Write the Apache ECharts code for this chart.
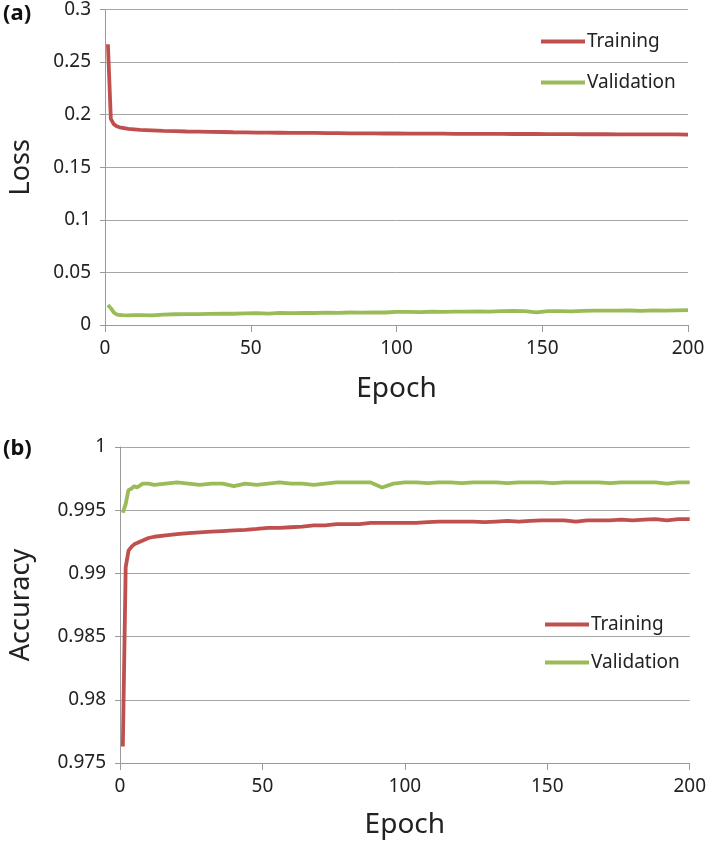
<!DOCTYPE html>
<html>
<head>
<meta charset="utf-8">
<script src="https://cdn.jsdelivr.net/npm/echarts@6/dist/echarts.min.js"></script>
<style>html,body{margin:0;padding:0;background:#fff;}#c{width:709px;height:844px;}</style>
</head>
<body>
<div id="c"></div>
<script>
const epochs = [1,2,3,4,5,6,8,10,12,16,20,24,28,32,36,40,44,48,52,56,60,64,68,72,76,80,84,88,92,96,100,104,108,112,116,120,124,128,132,136,140,144,148,152,156,160,164,168,172,176,180,184,188,192,196,200];

const lossTraining = [0.267,0.196,0.191,0.189,0.188,0.1875,0.1865,0.186,0.1855,0.185,0.1845,0.1843,0.1840,0.1838,0.1836,0.1835,0.1833,0.1832,0.1830,0.1829,0.1828,0.1827,0.1826,0.1826,0.1825,0.1824,0.1823,0.1823,0.1822,0.1821,0.1821,0.1820,0.1820,0.1819,0.1819,0.1818,0.1818,0.1817,0.1817,0.1817,0.1816,0.1816,0.1816,0.1815,0.1815,0.1815,0.1814,0.1814,0.1814,0.1813,0.1813,0.1813,0.1812,0.1812,0.1812,0.1811];

const lossValidation = [0.019,0.016,0.012,0.010,0.0095,0.0093,0.0092,0.0094,0.0093,0.0091,0.0098,0.0102,0.0104,0.0103,0.0106,0.0108,0.0107,0.0110,0.0113,0.0109,0.0115,0.0112,0.0116,0.0114,0.0117,0.0115,0.0119,0.0117,0.0121,0.0119,0.0124,0.0124,0.0122,0.0126,0.0124,0.0128,0.0127,0.0129,0.0127,0.0131,0.0133,0.0132,0.0121,0.0131,0.0132,0.0130,0.0134,0.0136,0.0137,0.0136,0.0138,0.0135,0.0139,0.0136,0.0139,0.0141];

const accTraining = [0.9763,0.9905,0.9918,0.9921,0.9923,0.9924,0.9926,0.9928,0.9929,0.9930,0.9931,0.99318,0.99325,0.9933,0.99335,0.9934,0.99345,0.99352,0.9936,0.9936,0.99365,0.9937,0.9938,0.9938,0.9939,0.9939,0.9939,0.9940,0.9940,0.9940,0.9940,0.9940,0.99405,0.9941,0.9941,0.9941,0.9941,0.99405,0.9941,0.99415,0.9941,0.99415,0.9942,0.9942,0.9942,0.9941,0.9942,0.9942,0.9942,0.99425,0.9942,0.99425,0.9943,0.9942,0.9943,0.9943];

const accValidation = [0.9948,0.9955,0.9966,0.9967,0.9969,0.9968,0.9971,0.9971,0.9970,0.9971,0.9972,0.9971,0.9970,0.9971,0.9971,0.9969,0.9971,0.9970,0.9971,0.9972,0.9971,0.9971,0.9970,0.9971,0.9972,0.9972,0.9972,0.9972,0.9968,0.9971,0.9972,0.9972,0.99715,0.9972,0.9972,0.99715,0.9972,0.9972,0.9972,0.99715,0.9972,0.9972,0.9972,0.99715,0.9972,0.9972,0.9972,0.9972,0.99715,0.9972,0.9972,0.9972,0.9972,0.9971,0.9972,0.9972];

const xTicks = ['0','50','100','150','200'];
const lossTicks = ['0','0.05','0.1','0.15','0.2','0.25','0.3'];
const accTicks = ['0.975','0.98','0.985','0.99','0.995','1'];

const RED = '#c0504d', GREEN = '#9bbb59';
const FONT = 'Noto Sans';
const pairs = (ys) => epochs.map((e, i) => [e, ys[i]]);
const tickFmt = (arr, min, step) => (v) => { const k = Math.round((v - min) / step); return arr[k] !== undefined ? arr[k] : ''; };

const chart = echarts.init(document.getElementById('c'), null, {renderer: 'canvas'});

function xAxis(gi) {
  return {
    type: 'value', gridIndex: gi, min: 0, max: 200, interval: 50,
    name: 'Epoch', nameLocation: 'middle', nameGap: gi === 0 ? 50 : 48,
    nameTextStyle: {fontFamily: FONT, fontSize: 28, color: '#222'},
    axisLine: {show: true, lineStyle: {color: '#9a9a9a', width: 1}},
    axisTick: {show: true, length: 7, lineStyle: {color: '#9a9a9a'}},
    axisLabel: {fontFamily: FONT, fontSize: 19, color: '#222', margin: 14, formatter: tickFmt(xTicks, 0, 50)},
    splitLine: {show: false}
  };
}

const option = {
  animation: false,
  backgroundColor: '#fff',
  grid: [
    {left: 101, right: 21, top: 8, height: 317},
    {left: 116, right: 17, top: 447, height: 316}
  ],
  xAxis: [xAxis(0), xAxis(1)],
  yAxis: [
    {
      type: 'value', gridIndex: 0, min: 0, max: 0.3, interval: 0.05,
      name: 'Loss', nameLocation: 'middle', nameGap: 70,
      nameTextStyle: {fontFamily: FONT, fontSize: 27, color: '#222'},
      axisLine: {show: true, lineStyle: {color: '#9a9a9a'}},
      axisTick: {show: true, length: 5, lineStyle: {color: '#9a9a9a'}},
      axisLabel: {fontFamily: FONT, fontSize: 19, color: '#222', margin: 14, formatter: tickFmt(lossTicks, 0, 0.05)},
      splitLine: {show: true, lineStyle: {color: '#a6a6a6', width: 1}}
    },
    {
      type: 'value', gridIndex: 1, min: 0.975, max: 1, interval: 0.005,
      name: 'Accuracy', nameLocation: 'middle', nameGap: 85,
      nameTextStyle: {fontFamily: FONT, fontSize: 27, color: '#222'},
      axisLine: {show: true, lineStyle: {color: '#9a9a9a'}},
      axisTick: {show: true, length: 5, lineStyle: {color: '#9a9a9a'}},
      axisLabel: {fontFamily: FONT, fontSize: 19, color: '#222', margin: 14, formatter: tickFmt(accTicks, 0.975, 0.005)},
      splitLine: {show: true, lineStyle: {color: '#a6a6a6', width: 1}}
    }
  ],
  legend: [
    {left: 541, top: 32, padding: 0, orient: 'vertical', itemGap: 22, itemWidth: 44, itemHeight: 4, icon: 'rect',
     textStyle: {fontFamily: FONT, fontSize: 19, color: '#222', padding: [0,0,0,-3]},
     data: [{name: 'Training', itemStyle: {color: RED}}, {name: 'Validation', itemStyle: {color: GREEN}}]},
    {left: 545, top: 615, padding: 0, orient: 'vertical', itemGap: 19, itemWidth: 44, itemHeight: 4, icon: 'rect',
     textStyle: {fontFamily: FONT, fontSize: 19, color: '#222', padding: [0,0,0,-3]},
     data: [{name: 'Training ', itemStyle: {color: RED}}, {name: 'Validation ', itemStyle: {color: GREEN}}]}
  ],
  graphic: [
    {type: 'text', left: 3, top: 3, style: {text: '(a)', font: 'bold 22px "Noto Sans"', fill: '#111'}},
    {type: 'text', left: 3, top: 438, style: {text: '(b)', font: 'bold 22px "Noto Sans"', fill: '#111'}}
  ],
  series: [
    {name: 'Training', type: 'line', xAxisIndex: 0, yAxisIndex: 0, data: pairs(lossTraining), showSymbol: false, lineStyle: {color: RED, width: 3.8}, itemStyle: {color: RED}},
    {name: 'Validation', type: 'line', xAxisIndex: 0, yAxisIndex: 0, data: pairs(lossValidation), showSymbol: false, lineStyle: {color: GREEN, width: 3.8}, itemStyle: {color: GREEN}},
    {name: 'Training ', type: 'line', xAxisIndex: 1, yAxisIndex: 1, data: pairs(accTraining), showSymbol: false, lineStyle: {color: RED, width: 3.8}, itemStyle: {color: RED}},
    {name: 'Validation ', type: 'line', xAxisIndex: 1, yAxisIndex: 1, data: pairs(accValidation), showSymbol: false, lineStyle: {color: GREEN, width: 3.8}, itemStyle: {color: GREEN}}
  ]
};
chart.setOption(option);
</script>
</body>
</html>
